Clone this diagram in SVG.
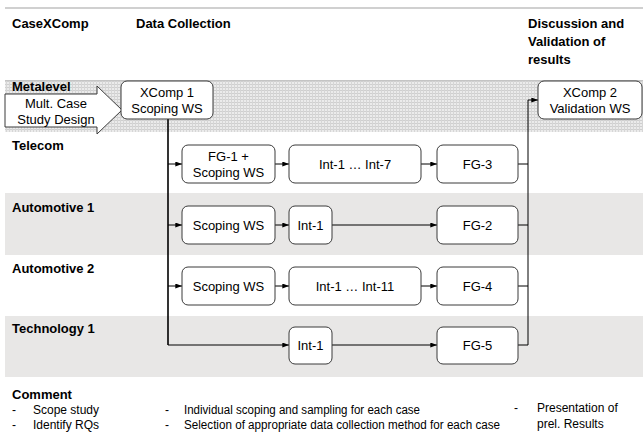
<svg xmlns="http://www.w3.org/2000/svg" width="643" height="433" viewBox="0 0 643 433">
<style>
text{font-family:"Liberation Sans",Arial,sans-serif;fill:#000}
.h{font-weight:bold;font-size:13px}
.t{font-size:13px;text-anchor:middle}
.c{font-size:12px}
.box{fill:#fff;stroke:#3a3a3a;stroke-width:1}
.ln{fill:none;stroke:#000;stroke-width:1}
.thick{fill:none;stroke:#000;stroke-width:1.6}
.arr{marker-end:url(#ah)}
</style>
<defs>
<marker id="ah" viewBox="0 0 8 6" refX="8" refY="3" markerWidth="7" markerHeight="5" markerUnits="userSpaceOnUse" orient="auto">
<path d="M0,0 L8,3 L0,6 z" fill="#000"/>
</marker>
<pattern id="dots" width="3" height="3" patternUnits="userSpaceOnUse">
<rect width="3" height="3" fill="#ebebeb"/>
<rect width="3" height="1" fill="#cfcfcf"/>
<rect width="1" height="3" fill="#d6d6d6"/>
</pattern>
</defs>

<!-- background bands -->
<g id="bands">
<rect x="5" y="7" width="638" height="2" fill="#d0d0d0"/>
<rect x="5" y="80" width="638" height="52" fill="url(#dots)"/>
<rect x="5" y="80" width="638" height="1" fill="#c4c4c4"/>
<rect x="5" y="193" width="638" height="62" fill="#e8e7e6"/>
<rect x="5" y="316" width="638" height="61" fill="#e8e7e6"/>
</g>

<!-- headers and row labels -->
<g id="labels">
<text class="h" x="12" y="28">CaseXComp</text>
<text class="h" x="136" y="28">Data Collection</text>
<text class="h" x="528" y="28">Discussion and</text>
<text class="h" x="528" y="46">Validation of</text>
<text class="h" x="528" y="64">results</text>
<text class="h" x="12" y="91">Metalevel</text>
<text class="h" x="12" y="150">Telecom</text>
<text class="h" x="12" y="212">Automotive 1</text>
<text class="h" x="12" y="273">Automotive 2</text>
<text class="h" x="12" y="333">Technology 1</text>
</g>

<!-- connectors -->
<g id="connectors">
<polyline class="thick" points="168,119 168,345"/>
<polyline class="ln arr" points="168,345 289,345"/>
<polyline class="ln arr" points="168,164 182,164"/>
<polyline class="ln arr" points="168,225 182,225"/>
<polyline class="ln arr" points="168,286 182,286"/>
<polyline class="ln arr" points="275,164 289,164"/>
<polyline class="ln arr" points="421,164 437,164"/>
<polyline class="ln arr" points="275,225 289,225"/>
<polyline class="ln arr" points="332,225 437,225"/>
<polyline class="ln arr" points="275,286 289,286"/>
<polyline class="ln arr" points="421,286 437,286"/>
<polyline class="ln arr" points="332,345 437,345"/>
<polyline class="ln" points="518,164 528,164"/>
<polyline class="ln" points="518,225 528,225"/>
<polyline class="ln" points="518,286 528,286"/>
<polyline class="ln" points="518,345 528,345 528,100"/>
<polyline class="ln arr" points="528,100 538,100"/>
</g>

<g id="mult-case">
<polygon points="5,94 97,94 97,86 122,110 97,134 97,127 5,127" fill="#fff" stroke="#3a3a3a" stroke-width="1"/>
<text class="t" x="56" y="108">Mult. Case</text>
<text class="t" x="56" y="124">Study Design</text>
</g>

<g id="xcomp1">
<rect class="box" x="121" y="81" width="92" height="38" rx="6"/>
<text class="t" x="167" y="97">XComp 1</text>
<text class="t" x="167" y="113">Scoping WS</text>
</g>

<g id="xcomp2">
<rect class="box" x="538" y="81" width="104" height="38" rx="6"/>
<text class="t" x="590" y="97">XComp 2</text>
<text class="t" x="590" y="113">Validation WS</text>
</g>

<g id="tel-fg1">
<rect class="box" x="182" y="145" width="93" height="38" rx="6"/>
<text class="t" x="228.5" y="161">FG-1 +</text>
<text class="t" x="228.5" y="177">Scoping WS</text>
</g>
<g id="tel-int">
<rect class="box" x="289" y="145" width="132" height="38" rx="6"/>
<text class="t" x="355" y="169">Int-1 … Int-7</text>
</g>
<g id="tel-fg3">
<rect class="box" x="437" y="145" width="81" height="38" rx="6"/>
<text class="t" x="477.5" y="169">FG-3</text>
</g>

<g id="a1-scoping">
<rect class="box" x="182" y="206" width="93" height="38" rx="6"/>
<text class="t" x="228.5" y="230">Scoping WS</text>
</g>
<g id="a1-int">
<rect class="box" x="289" y="206" width="43" height="38" rx="6"/>
<text class="t" x="310.5" y="230">Int-1</text>
</g>
<g id="a1-fg2">
<rect class="box" x="437" y="206" width="81" height="38" rx="6"/>
<text class="t" x="477.5" y="230">FG-2</text>
</g>

<g id="a2-scoping">
<rect class="box" x="182" y="267" width="93" height="38" rx="6"/>
<text class="t" x="228.5" y="291">Scoping WS</text>
</g>
<g id="a2-int">
<rect class="box" x="289" y="267" width="132" height="38" rx="6"/>
<text class="t" x="355" y="291">Int-1 … Int-11</text>
</g>
<g id="a2-fg4">
<rect class="box" x="437" y="267" width="81" height="38" rx="6"/>
<text class="t" x="477.5" y="291">FG-4</text>
</g>

<g id="t1-int">
<rect class="box" x="289" y="327" width="43" height="37" rx="6"/>
<text class="t" x="310.5" y="350">Int-1</text>
</g>
<g id="t1-fg5">
<rect class="box" x="437" y="327" width="81" height="37" rx="6"/>
<text class="t" x="477.5" y="350">FG-5</text>
</g>

<g id="comments">
<text class="h" x="12" y="399">Comment</text>
<text class="c" x="12" y="414">-</text>
<text class="c" x="33" y="414">Scope study</text>
<text class="c" x="12" y="429">-</text>
<text class="c" x="33" y="429">Identify RQs</text>
<text class="c" x="165" y="414">-</text>
<text class="c" x="184" y="414" textLength="236" lengthAdjust="spacingAndGlyphs">Individual scoping and sampling for each case</text>
<text class="c" x="165" y="429">-</text>
<text class="c" x="184" y="429" textLength="316" lengthAdjust="spacingAndGlyphs">Selection of appropriate data collection method for each case</text>
<text class="c" x="514" y="412">-</text>
<text class="c" x="537" y="412">Presentation of</text>
<text class="c" x="537" y="428">prel. Results</text>
</g>
</svg>
